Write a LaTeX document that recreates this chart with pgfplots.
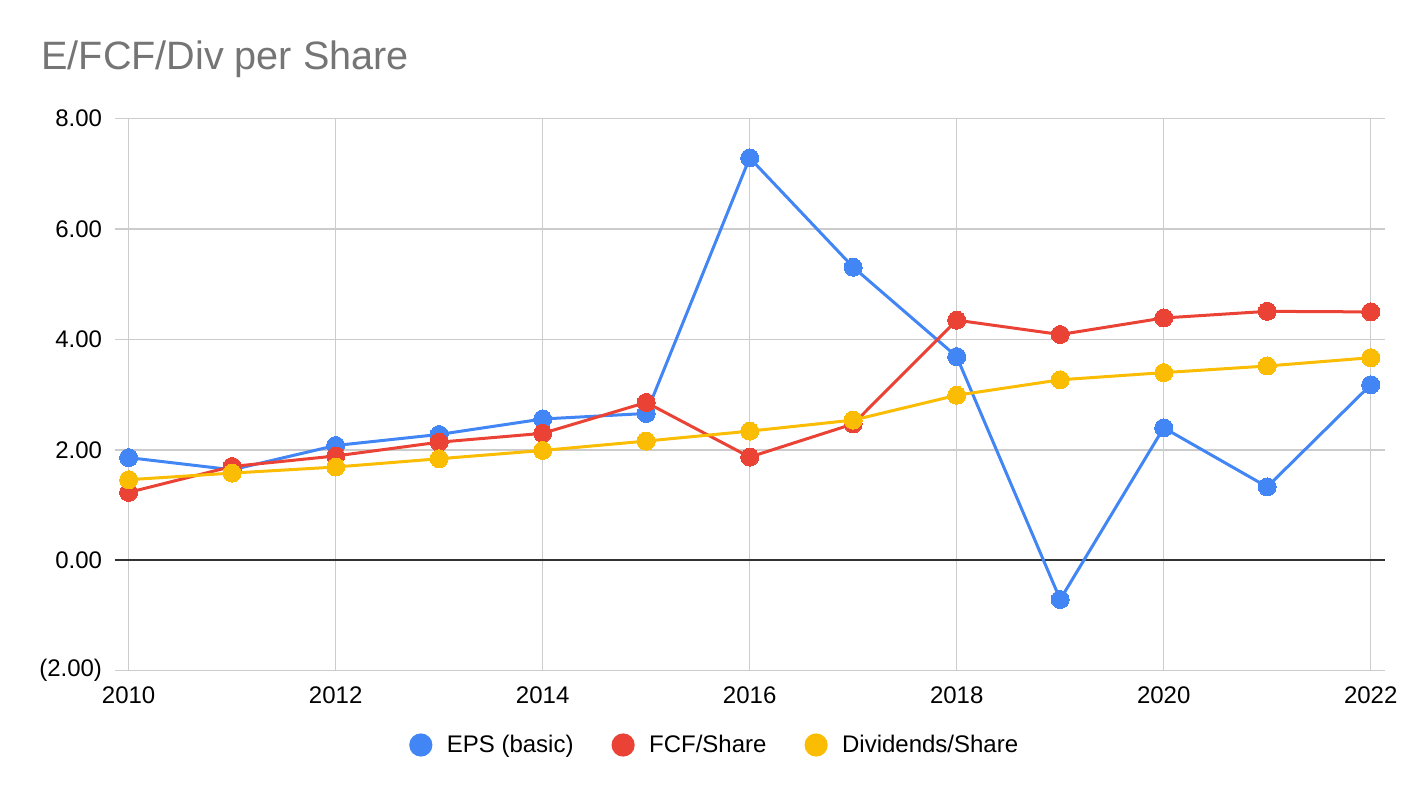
\documentclass[border=0pt]{standalone}
\usepackage{pgfplots}
\pgfplotsset{compat=1.18}
\usepackage{fontspec}
\setmainfont{Liberation Sans}
\definecolor{eblue}{HTML}{4285F4}
\definecolor{ered}{HTML}{EA4335}
\definecolor{eyellow}{HTML}{FBBC04}
\definecolor{gridgray}{HTML}{CCCCCC}
\definecolor{titlegray}{HTML}{757575}
\definecolor{zeroline}{HTML}{333333}
\begin{document}
\begin{tikzpicture}
\path[use as bounding box] (-57.5pt,-63.65pt) rectangle (654.5pt,335.35pt);
\begin{axis}[
  scale only axis,
  width=635pt, height=276pt,
  xmin=2009.868, xmax=2022.138,
  ymin=-2, ymax=8,
  xtick={2010,2012,2014,2016,2018,2020,2022},
  xticklabels={2010,2012,2014,2016,2018,2020,2022},
  ytick={-2,0,2,4,6,8},
  yticklabels={(2.00),0.00,2.00,4.00,6.00,8.00},
  grid=major,
  major grid style={color=gridgray, line width=0.7pt},
  axis line style={draw=none},
  major tick length=0pt,
  tick label style={font=\fontsize{12pt}{14pt}\selectfont, text=black},
  yticklabel style={anchor=east, inner sep=0pt, xshift=-6.3pt},
  xticklabel style={anchor=north, inner sep=0pt, yshift=-7.6pt},
  legend columns=3,
  legend style={at={(0.473,-0.1346)}, anchor=center, draw=none, fill=none,
    font=\fontsize{12pt}{14pt}\selectfont,
    /tikz/every even column/.append style={column sep=17pt}},
  legend image code/.code={\fill[#1, draw=none] (0pt,0pt) circle (5.8pt); \path[draw=none, fill=none] (-5.8pt,-0.1pt) rectangle (11pt,0.1pt);},
  every axis plot/.append style={line width=1.5pt, mark=*, mark size=4.5pt},
]
\addplot[zeroline, line width=1pt, mark=none, forget plot] coordinates {(2009.868,0) (2022.138,0)};
\addplot[color=eblue, mark options={fill=eblue, draw=eblue, line width=0pt}] coordinates {
(2010,1.86) (2011,1.64) (2012,2.08) (2013,2.28) (2014,2.56) (2015,2.66) (2016,7.29)
(2017,5.31) (2018,3.69) (2019,-0.71) (2020,2.40) (2021,1.33) (2022,3.18)};
\addlegendentry{EPS (basic)}
\addplot[color=ered, mark options={fill=ered, draw=ered, line width=0pt}] coordinates {
(2010,1.23) (2011,1.70) (2012,1.89) (2013,2.14) (2014,2.30) (2015,2.86) (2016,1.87)
(2017,2.47) (2018,4.35) (2019,4.09) (2020,4.39) (2021,4.51) (2022,4.50)};
\addlegendentry{FCF/Share}
\addplot[color=eyellow, mark options={fill=eyellow, draw=eyellow, line width=0pt}] coordinates {
(2010,1.46) (2011,1.58) (2012,1.69) (2013,1.84) (2014,1.99) (2015,2.16) (2016,2.34)
(2017,2.54) (2018,2.99) (2019,3.27) (2020,3.40) (2021,3.52) (2022,3.67)};
\addlegendentry{Dividends/Share}
\end{axis}
\node[anchor=base west, inner sep=0pt, text=titlegray, font=\fontsize{19.8pt}{23pt}\selectfont] at (-37pt,300.7pt) {E/FCF/Div per Share};
\end{tikzpicture}
\end{document}
